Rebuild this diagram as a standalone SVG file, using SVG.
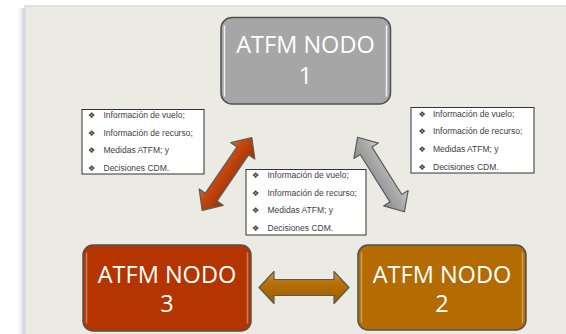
<svg xmlns="http://www.w3.org/2000/svg" width="566" height="334" viewBox="0 0 566 334">
  <defs>
    <linearGradient id="shadowL" x1="0" y1="0" x2="1" y2="0">
      <stop offset="0" stop-color="#ffffff" stop-opacity="0"/>
      <stop offset="1" stop-color="#c8c8c8"/>
    </linearGradient>
    <linearGradient id="gRed" x1="0" y1="0" x2="0" y2="1">
      <stop offset="0" stop-color="#e0672a"/>
      <stop offset="0.3" stop-color="#c8480f"/>
      <stop offset="1" stop-color="#9c3004"/>
    </linearGradient>
    <linearGradient id="gGray" x1="0" y1="0" x2="0" y2="1">
      <stop offset="0" stop-color="#d6d6d6"/>
      <stop offset="0.3" stop-color="#b0b0b0"/>
      <stop offset="1" stop-color="#8c8c8c"/>
    </linearGradient>
    <linearGradient id="gGold" x1="0" y1="0" x2="0" y2="1">
      <stop offset="0" stop-color="#dc9a35"/>
      <stop offset="0.3" stop-color="#ba7408"/>
      <stop offset="1" stop-color="#9a5c00"/>
    </linearGradient>
    <path id="diag" d="M -44 0 L -28 -14.5 L -28 -7 L 28 -7 L 28 -14.5 L 44 0 L 28 14.5 L 28 7 L -28 7 L -28 14.5 Z"/>
  </defs>
  <style>
    .node rect.box { stroke: #505050; stroke-width: 1.5; }
    .hl { stroke: #ffffff; stroke-width: 1.5; stroke-linecap: round; }
    .nt { font-family: "Open Sans", "Liberation Sans", sans-serif; font-size: 23.5px; fill: #ffffff; text-anchor: middle; }
    .info rect { fill: #ffffff; stroke: #333333; stroke-width: 1; }
    .it { font-family: "Liberation Sans", Arial, sans-serif; font-size: 8.5px; fill: #404040; }
    .bl { font-family: "DejaVu Sans", sans-serif; font-size: 8px; fill: #333333; }
    .arr { stroke: #5a5a5a; stroke-width: 1.2; stroke-linejoin: round; }
  </style>

  <!-- page and panel -->
  <rect x="0" y="0" width="566" height="334" fill="#ffffff"/>
  <rect x="16" y="8" width="9" height="326" fill="url(#shadowL)"/>
  <rect x="25" y="6" width="545" height="332" fill="#ebebe4" stroke="#d2dcf0" stroke-width="1.5"/>

  <!-- connectors -->
  <g id="connectors">
    <use href="#diag" class="arr" fill="url(#gRed)" transform="translate(227,174) rotate(-55.6)"/>
    <use href="#diag" class="arr" fill="url(#gGray)" transform="translate(381,174.5) rotate(57.9)"/>
    <path class="arr" fill="url(#gGold)" d="M 259 287.5 L 274 271.5 L 274 279.5 L 334 279.5 L 334 271.5 L 349 287.5 L 334 303.5 L 334 295.5 L 274 295.5 L 274 303.5 Z"/>
  </g>

  <!-- nodes -->
  <g id="node1" class="node">
    <rect class="box" x="221" y="17.5" width="169.5" height="86.5" rx="11" fill="#a6a6a6"/>
    <line class="hl" x1="224.5" y1="26" x2="224.5" y2="96" opacity="0.85"/>
    <line class="hl" x1="386.5" y1="26" x2="386.5" y2="96" opacity="0.85"/>
    <text class="nt" x="305.5" y="53">ATFM NODO</text>
    <text class="nt" x="305.5" y="84">1</text>
  </g>
  <g id="node3" class="node">
    <rect class="box" x="83" y="245" width="168" height="86" rx="10" fill="#b53500"/>
    <line class="hl" x1="86.5" y1="253" x2="86.5" y2="323" opacity="0.35"/>
    <line class="hl" x1="247.5" y1="253" x2="247.5" y2="323" opacity="0.35"/>
    <text class="nt" x="167" y="283">ATFM NODO</text>
    <text class="nt" x="167" y="312">3</text>
  </g>
  <g id="node2" class="node">
    <rect class="box" x="358" y="245" width="168" height="85" rx="10" fill="#b36b02"/>
    <line class="hl" x1="361.5" y1="253" x2="361.5" y2="322" opacity="0.35"/>
    <line class="hl" x1="522.5" y1="253" x2="522.5" y2="322" opacity="0.35"/>
    <text class="nt" x="442" y="283">ATFM NODO</text>
    <text class="nt" x="442" y="312">2</text>
  </g>

  <!-- info boxes -->
  <g id="infoLeft" class="info">
    <rect x="82" y="109.5" width="122" height="64.5"/>
    <text class="bl" x="88" y="118">❖</text><text class="it" x="103.5" y="118">Información de vuelo;</text>
    <text class="bl" x="88" y="135.5">❖</text><text class="it" x="103.5" y="135.5">Información de recurso;</text>
    <text class="bl" x="88" y="153">❖</text><text class="it" x="103.5" y="153">Medidas ATFM; y</text>
    <text class="bl" x="88" y="170.5">❖</text><text class="it" x="103.5" y="170.5">Decisiones CDM.</text>
  </g>
  <g id="infoMiddle" class="info">
    <rect x="246" y="169.5" width="120" height="65.5"/>
    <text class="bl" x="252" y="178">❖</text><text class="it" x="267.5" y="178">Información de vuelo;</text>
    <text class="bl" x="252" y="195.5">❖</text><text class="it" x="267.5" y="195.5">Información de recurso;</text>
    <text class="bl" x="252" y="213">❖</text><text class="it" x="267.5" y="213">Medidas ATFM; y</text>
    <text class="bl" x="252" y="230.5">❖</text><text class="it" x="267.5" y="230.5">Decisiones CDM.</text>
  </g>
  <g id="infoRight" class="info">
    <rect x="411" y="107.5" width="123" height="65.5"/>
    <text class="bl" x="418.5" y="116.5">❖</text><text class="it" x="433" y="116.5">Información de vuelo;</text>
    <text class="bl" x="418.5" y="134">❖</text><text class="it" x="433" y="134">Información de recurso;</text>
    <text class="bl" x="418.5" y="152">❖</text><text class="it" x="433" y="152">Medidas ATFM; y</text>
    <text class="bl" x="418.5" y="170">❖</text><text class="it" x="433" y="170">Decisiones CDM.</text>
  </g>
</svg>
